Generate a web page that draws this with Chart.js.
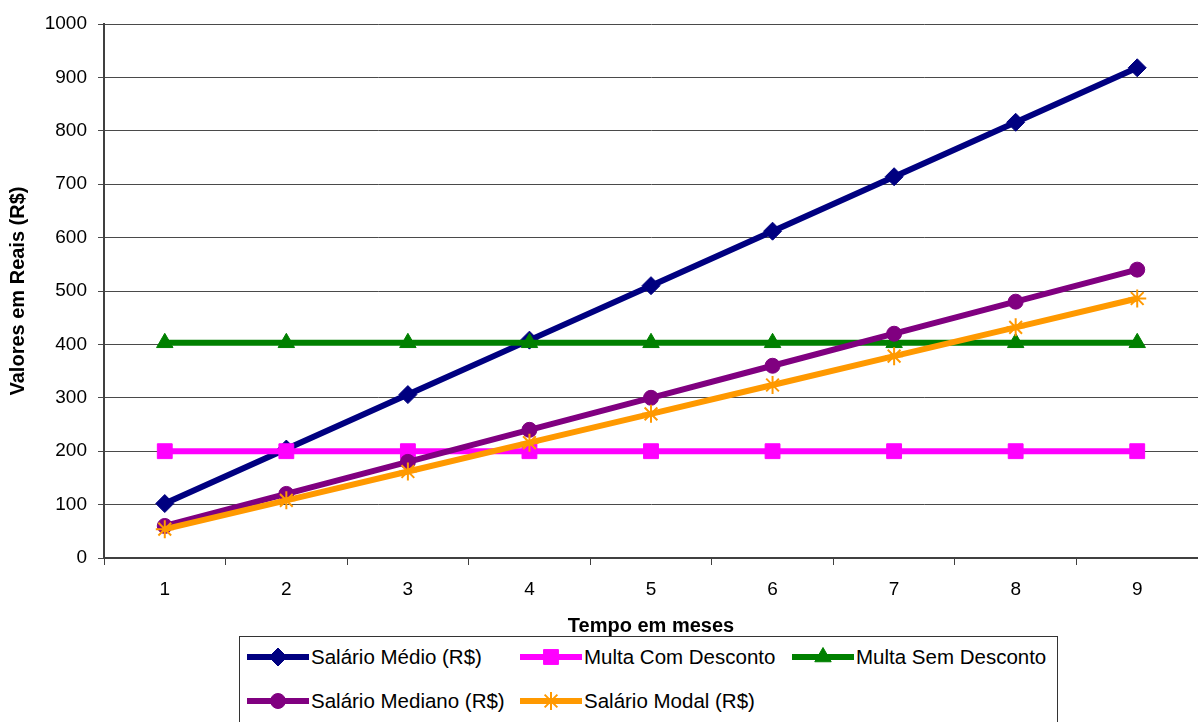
<!DOCTYPE html>
<html lang="pt">
<head>
<meta charset="utf-8">
<title>Salários e multas ao longo dos meses</title>
<script src="https://cdn.jsdelivr.net/npm/chart.js@4.4.1/dist/chart.umd.min.js"></script>
<style>
  html, body { margin: 0; padding: 0; background: #fff; overflow: hidden; }
  #wrap { position: relative; width: 1198px; height: 722px; font-family: "Liberation Sans", Arial, sans-serif; }
  #chart { position: absolute; left: 0; top: 0; }
  #legend { position: absolute; left: 239px; top: 636px; width: 819px; height: 110px;
            border: 1px solid #333; box-sizing: border-box; background: #fff; }
  .item { position: absolute; display: flex; align-items: center; height: 24px;
          font-size: 20.5px; color: #000; white-space: nowrap; }
  .item canvas { display: block; margin-right: 2px; }
</style>
</head>
<body>
<div id="wrap">
  <canvas id="chart" width="1198" height="640"></canvas>
  <div id="legend"></div>
</div>
<script>
// Months on the horizontal axis
const months = ['1', '2', '3', '4', '5', '6', '7', '8', '9'];

// Values in reais for each month
const salarioMedio     = [102, 204, 306, 408, 510, 612, 714, 816, 918];
const multaComDesconto = [200, 200, 200, 200, 200, 200, 200, 200, 200];
const multaSemDesconto = [403, 403, 403, 403, 403, 403, 403, 403, 403];
const salarioMediano   = [60, 120, 180, 240, 300, 360, 420, 480, 540];
const salarioModal     = [54, 108, 162, 216, 270, 324, 378, 432, 486];

// Vertical axis range
const yMin = 0;
const yMax = 1000;
const yStep = 100;

const FONT = '"Liberation Sans", Arial, sans-serif';

function series(label, data, color, style, radius, order, extra) {
  return Object.assign({
    label: label,
    data: data,
    borderColor: color,
    backgroundColor: color,
    borderWidth: 6,
    pointStyle: style,
    pointRadius: radius,
    pointHoverRadius: radius,
    pointBorderWidth: 1,
    pointBackgroundColor: color,
    pointBorderColor: color,
    tension: 0,
    fill: false,
    order: order
  }, extra || {});
}

const datasets = [
  series('Salário Médio (R$)', salarioMedio, '#000080', 'rectRot', 9, 5),
  series('Multa Com Desconto', multaComDesconto, '#FF00FF', 'rect', 10.5, 4),
  series('Multa Sem Desconto', multaSemDesconto, '#008000', 'triangle', 9.5, 3),
  series('Salário Mediano (R$)', salarioMediano, '#800080', 'circle', 7.5, 2),
  series('Salário Modal (R$)', salarioModal, '#FF9900', 'star', 9, 1, { pointBorderWidth: 2 })
];

const chart = new Chart(document.getElementById('chart'), {
  type: 'line',
  data: { labels: months, datasets: datasets },
  options: {
    responsive: false,
    animation: false,
    devicePixelRatio: 1,
    layout: { autoPadding: false, padding: { top: 24, right: 0, bottom: 0, left: 0 } },
    plugins: {
      legend: { display: false },
      tooltip: { enabled: false }
    },
    scales: {
      x: {
        type: 'category',
        offset: true,
        grid: {
          display: true,
          drawOnChartArea: false,
          drawTicks: true,
          tickLength: 7,
          offset: true,
          color: '#404040',
          lineWidth: 1
        },
        border: { display: true, color: '#404040', width: 2 },
        ticks: {
          font: { family: FONT, size: 19 },
          color: '#000',
          padding: 13,
          maxRotation: 0,
          autoSkip: false
        },
        title: {
          display: true,
          text: 'Tempo em meses',
          color: '#000',
          font: { family: FONT, size: 20, weight: 'bold' },
          padding: { top: 0, bottom: 2 }
        },
        afterFit(scale) {
          scale.height = 82;
          scale.paddingLeft = 0;
          scale.paddingRight = 0;
        }
      },
      y: {
        min: yMin,
        max: yMax,
        ticks: {
          stepSize: yStep,
          font: { family: FONT, size: 19 },
          color: '#000',
          padding: 11,
          callback: function (value) { return String(value); }
        },
        grid: {
          color: '#4a4a4a',
          lineWidth: 1,
          drawTicks: true,
          tickLength: 6
        },
        border: { display: true, color: '#404040', width: 2 },
        title: {
          display: true,
          text: 'Valores em Reais (R$)',
          color: '#000',
          font: { family: FONT, size: 20, weight: 'bold' },
          padding: { top: 6, bottom: 0 }
        },
        afterFit(scale) { scale.width = 104; }
      }
    }
  }
});

// Legend: three entries on the first row, two on the second
const legendSlots = [
  { left: 7, top: 8 }, { left: 280, top: 8 }, { left: 552, top: 8 },
  { left: 7, top: 52 }, { left: 280, top: 52 }
];

const legendBox = document.getElementById('legend');
const drawPoint = Chart.helpers && Chart.helpers.drawPoint;

datasets.forEach(function (ds, i) {
  const item = document.createElement('div');
  item.className = 'item';
  item.style.left = legendSlots[i].left + 'px';
  item.style.top = legendSlots[i].top + 'px';

  const c = document.createElement('canvas');
  c.width = 62; c.height = 24;
  const ctx = c.getContext('2d');
  ctx.strokeStyle = ds.borderColor;
  ctx.lineWidth = 6;
  ctx.beginPath();
  ctx.moveTo(0, 12);
  ctx.lineTo(62, 12);
  ctx.stroke();
  ctx.fillStyle = ds.pointBackgroundColor;
  ctx.strokeStyle = ds.pointBorderColor;
  ctx.lineWidth = ds.pointBorderWidth;
  if (drawPoint) {
    drawPoint(ctx, { pointStyle: ds.pointStyle, rotation: 0, radius: ds.pointRadius, borderWidth: ds.pointBorderWidth }, 31, 12);
  } else {
    ctx.beginPath();
    ctx.arc(31, 12, ds.pointRadius, 0, Math.PI * 2);
    ctx.fill();
  }

  const label = document.createElement('span');
  label.textContent = ds.label;

  item.appendChild(c);
  item.appendChild(label);
  legendBox.appendChild(item);
});
</script>
</body>
</html>
